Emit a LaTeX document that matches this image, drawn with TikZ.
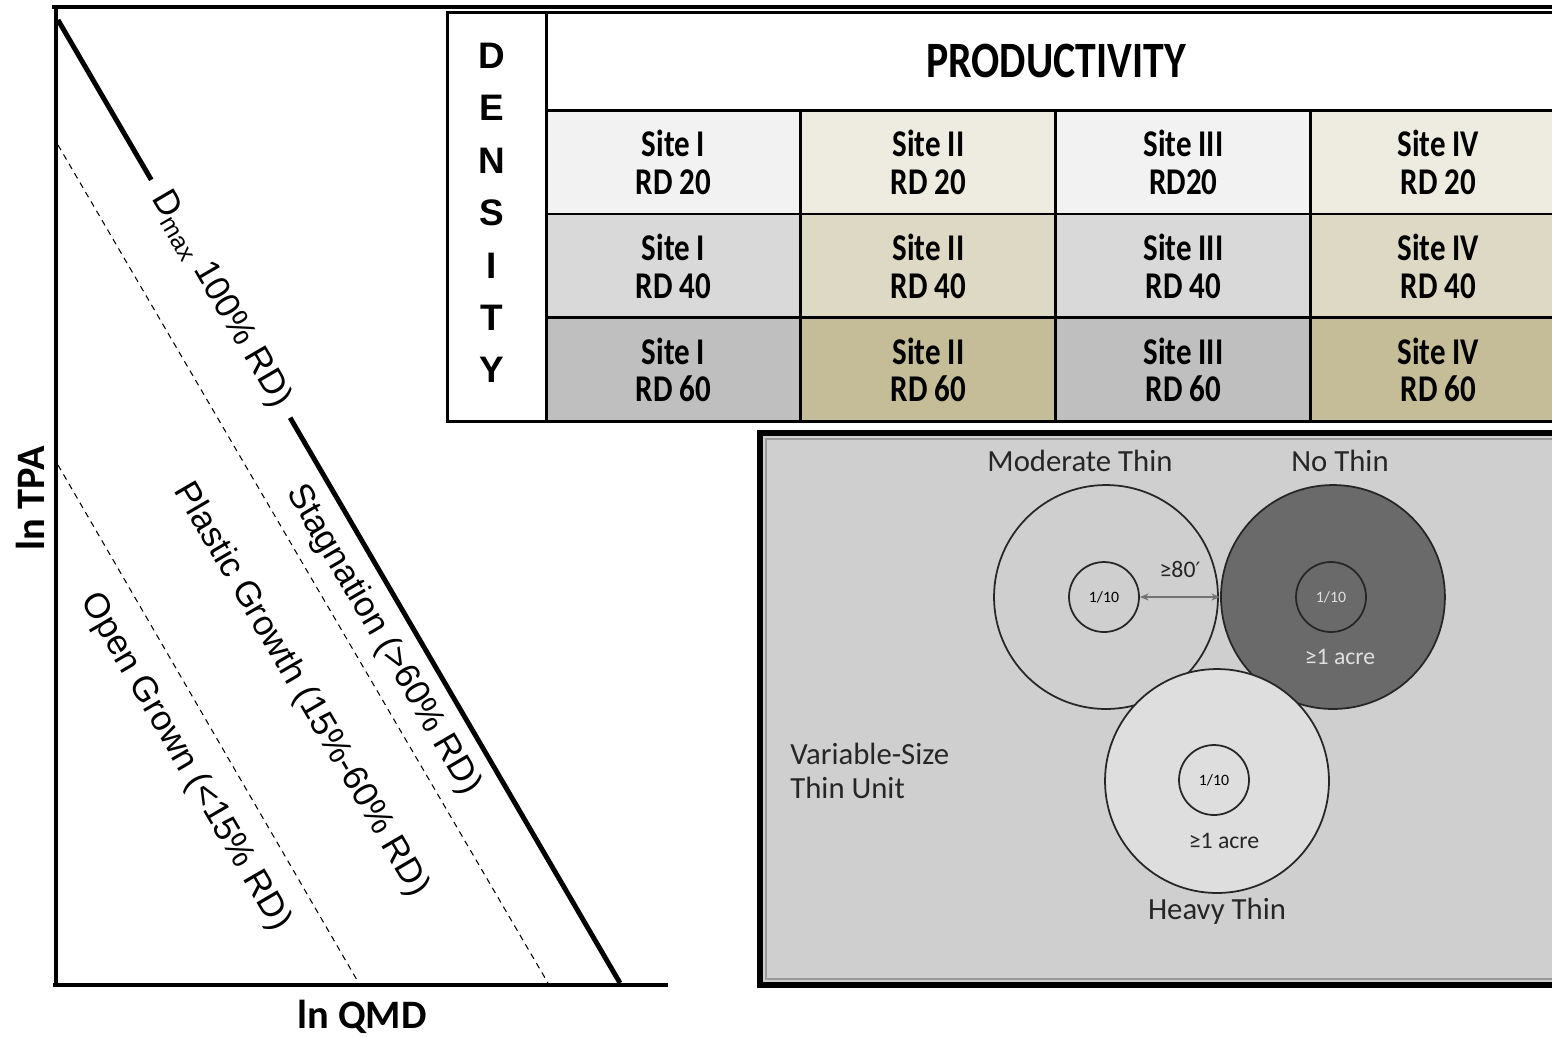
\documentclass[tikz,border=0pt]{standalone}
\usepackage{fontspec}
\setmainfont{Liberation Sans}
\newfontfamily\tabfont[FakeStretch=0.82]{Carlito}
\newfontfamily\calfont{Carlito}
\newfontfamily\symfont{DejaVu Sans}
\usetikzlibrary{positioning, arrows.meta, calc}

\definecolor{greya}{HTML}{F2F2F2}
\definecolor{greyb}{HTML}{D9D9D9}
\definecolor{greyc}{HTML}{BFBFBF}
\definecolor{tana}{HTML}{EEECE1}
\definecolor{tanb}{HTML}{DDD9C4}
\definecolor{tanc}{HTML}{C4BD97}
\definecolor{panel}{HTML}{CFCFCF}
\definecolor{nothinfill}{HTML}{6A6A6A}
\definecolor{heavyfill}{HTML}{DEDEDE}

\begin{document}
\begin{tikzpicture}[x=0.02cm, y=-0.02cm, on grid, node distance=2.08cm,
		axis/.style={line width=2.8pt},
		zoneline/.style={line width=0.6pt, dash pattern=on 3.4pt off 2.8pt},
		zone/.style={rotate=-59.7, inner sep=0pt, font=\fontsize{20}{20}\selectfont},
		axlab/.style={inner sep=0pt, font=\calfont\bfseries\fontsize{23}{23}\selectfont},
		cell/.style={draw, line width=1.7pt, minimum width=5.1cm, minimum height=2.08cm, inner sep=0pt, align=center, font=\tabfont\bfseries\fontsize{21.5}{21.5}\selectfont},
		ring/.style={circle, draw=black!85, line width=1pt, minimum size=4.48cm, inner sep=0pt},
		core/.style={circle, draw=black!85, line width=1pt, minimum size=1.4cm, inner sep=0pt, font=\calfont\fontsize{9}{9}\selectfont},
		thinlab/.style={inner sep=0pt, align=left, text=black!85, font=\calfont\fontsize{17.5}{19.3}\selectfont},
		acre/.style={inner sep=0pt, font=\calfont\fontsize{13.5}{13.5}\selectfont}]
	\useasboundingbox (0,0) rectangle (1552,1036);
	\clip (0,0) rectangle (1552,1036);
	
	% density diagram
	\draw[axis] (52,7) -- (1552,7);
	\draw[axis] (56,5) -- (56,987);
	\draw[axis] (53,985) -- (668,985);
	\coordinate (dtop) at (58,20);
	\coordinate (dbot) at (620,983);
	\draw[axis] (dtop) -- ($(dtop)!0.166!(dbot)$);
	\draw[axis] ($(dtop)!0.413!(dbot)$) -- (dbot);
	\draw[zoneline] (58,145) -- (548,983);
	\draw[zoneline] (58,465) -- (357,980);
	\node[zone] (dmax) at ($(dtop)!0.29!(dbot)$) {D\textsubscript{max} 100\% RD)};
	\node[zone] (stag) at (383,640) {Stagnation (>60\% RD)};
	\node[zone] (plastic) at (301,690) {Plastic Growth (15\%-60\% RD)};
	\node[zone] (open) at (185,762) {Open Grown (<15\% RD)};
	\node[axlab, rotate=90] (tpa) at (30,498) {ln TPA};
	\node[axlab] (qmd) at (362,1017) {ln QMD};
	
	% productivity table
	\node[draw, line width=1.7pt, fill=white, minimum width=1.98cm, minimum height=8.2cm, inner sep=0pt] (dens) at (496.5,217) {};
	\node[inner sep=0pt, align=center, font=\bfseries\fontsize{21}{29.8}\selectfont] (denslab) at (492,213) {D\\E\\N\\S\\I\\T\\Y};
	\node[draw, line width=1.7pt, fill=white, minimum width=20.4cm, minimum height=1.96cm, inner sep=0pt,
		font=\tabfont\bfseries\fontsize{29}{29}\selectfont] (prod) at (1056,61) {PRODUCTIVITY};
	\node[cell, fill=greya] (s11) at (673.5,162) {Site I\\RD 20};
	\node[cell, fill=tana] (s12) [right=5.1cm of s11] {Site II\\RD 20};
	\node[cell, fill=greya] (s13) [right=5.1cm of s12] {Site III\\RD20};
	\node[cell, fill=tana] (s14) [right=5.1cm of s13] {Site IV\\RD 20};
	\node[cell, fill=greyb] (s21) [below=of s11] {Site I\\RD 40};
	\node[cell, fill=tanb] (s22) [right=5.1cm of s21] {Site II\\RD 40};
	\node[cell, fill=greyb] (s23) [right=5.1cm of s22] {Site III\\RD 40};
	\node[cell, fill=tanb] (s24) [right=5.1cm of s23] {Site IV\\RD 40};
	\node[cell, fill=greyc] (s31) [below=of s21] {Site I\\RD 60};
	\node[cell, fill=tanc] (s32) [right=5.1cm of s31] {Site II\\RD 60};
	\node[cell, fill=greyc] (s33) [right=5.1cm of s32] {Site III\\RD 60};
	\node[cell, fill=tanc] (s34) [right=5.1cm of s33] {Site IV\\RD 60};
	
	% thinning layout
	\draw[line width=3.4pt, fill=panel] (760,433) rectangle (1580,985);
	\draw[line width=0.6pt, draw=black!40] (766,439) rectangle (1580,979);
	\node[ring, fill=panel] (modthin) at (1106,597) {};
	\node[ring, fill=nothinfill] (nothin) [right=4.54cm of modthin] {};
	\node[ring, fill=heavyfill] (heavy) at (1217,781) {};
	\node[core] (modcore) at (1104,597) {1/10};
	\node[core, text=white!88!black] (nocore) at (1331,597) {1/10};
	\node[core] (heavycore) at (1214,780) {1/10};
	\node[acre, text=white!88!black] (noacre) at (1340,657) {≥1 acre};
	\node[acre, text=black!85] (heavyacre) at (1224,841) {≥1 acre};
	\draw[{Stealth[length=5pt, width=4pt]}-{Stealth[length=5pt, width=4pt]}, draw=black!55, line width=0.8pt]
		(modcore) -- node[above=0.38cm, acre, text=black!85] (gap) {≥80{\symfont\fontsize{12}{12}\selectfont ′}} (nothin);
	\node[thinlab] (modlab) at (1080,461) {Moderate Thin};
	\node[thinlab] (nolab) at (1340,461) {No Thin};
	\node[thinlab] (heavylab) at (1217,911) {Heavy Thin};
	\node[thinlab, anchor=west] (unit) at (790,771) {Variable-Size\\Thin Unit};
\end{tikzpicture}
\end{document}
